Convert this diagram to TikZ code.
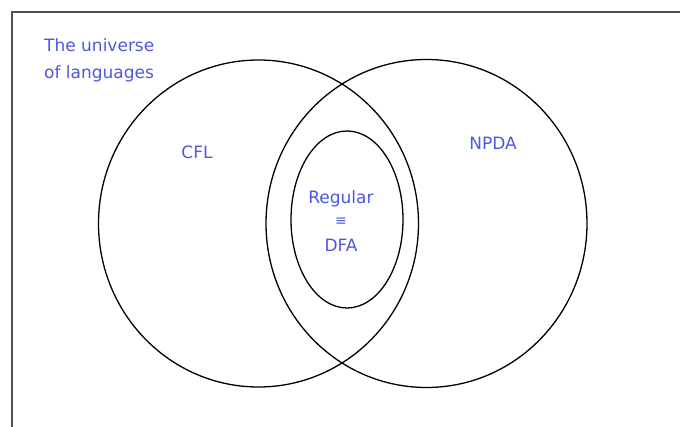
\documentclass[tikz,border=0pt]{standalone}
\usepackage{fontspec}
\setmainfont{DejaVu Sans}
\definecolor{lbl}{RGB}{78,88,222}
\definecolor{frame}{RGB}{80,80,80}
\begin{document}
\begin{tikzpicture}[x=1pt,y=-1pt,
  set/.style={draw=black,line width=1.3pt},
  lab/.style={text=lbl,font=\fontsize{17}{27}\selectfont,inner sep=0pt}]
\useasboundingbox (0,0) rectangle (680,427);
\fill[white] (0,0) rectangle (680,427);
\coordinate (ftop) at (680,12);
\coordinate (fcorner) at (11.5,12);
\coordinate (fbot) at (11.5,427);
\draw[frame,line width=2pt] (ftop) -- (fcorner) -- (fbot);
\draw[set] (258.5,223.5) ellipse [x radius=160, y radius=163.5];
\draw[set] (426.5,223.5) ellipse [x radius=160.5, y radius=164];
\draw[set] (347,219.5) ellipse [x radius=56, y radius=88.5];
\node[lab,align=left,anchor=north west] (univ) at (44,38) {The universe\\of languages};
\node[lab] (cfl) at (197,152) {CFL};
\node[lab] (npda) at (493,143) {NPDA};
\node[lab] (reg) at (341,199) {Regular};
\node[lab,font=\fontsize{14}{16}\selectfont] (eq) at (341,222) {≡};
\node[lab] (dfa) at (341,245) {DFA};
\end{tikzpicture}
\end{document}
